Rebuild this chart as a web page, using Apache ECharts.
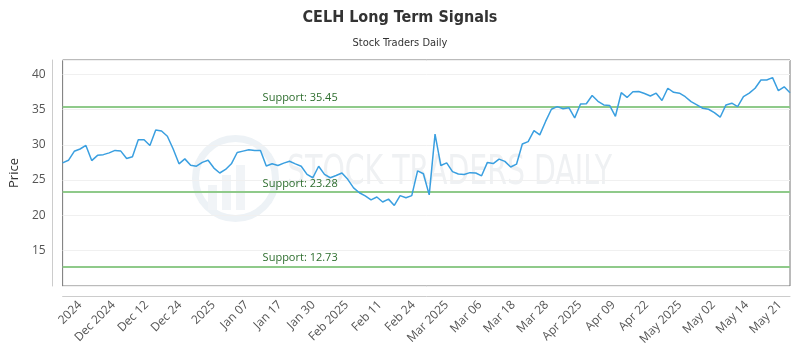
<!DOCTYPE html>
<html>
<head>
<meta charset="utf-8">
<script src="https://cdn.jsdelivr.net/npm/echarts@6/dist/echarts.min.js"></script>
<style>html,body{margin:0;padding:0;background:#fff}#c{width:800px;height:350px}</style>
</head>
<body>
<div id="c"></div>
<script>
const title = "CELH Long Term Signals";
const subtitle = "Stock Traders Daily";
const tickLabels = ["2024","Dec 2024","Dec 12","Dec 24","2025","Jan 07","Jan 17","Jan 30","Feb 2025","Feb 11","Feb 24","Mar 2025","Mar 06","Mar 18","Mar 28","Apr 2025","Apr 09","Apr 22","May 2025","May 02","May 14","May 21"];
const prices = [27.44,27.8,29.07,29.4,29.9,27.76,28.5,28.6,28.85,29.2,29.1,28.05,28.3,30.7,30.7,29.9,32.1,31.95,31.2,29.4,
27.3,28.0,27.1,26.96,27.5,27.8,26.7,26.0,26.5,27.3,28.9,29.1,29.3,29.2,29.2,27.0,27.3,27.06,27.4,27.66,
27.3,26.96,25.8,25.33,26.96,25.8,25.33,25.65,26.0,25.1,23.9,23.2,22.75,22.2,22.6,21.9,22.3,21.4,22.8,22.5,
22.8,26.3,25.9,22.9,31.5,27.06,27.44,26.2,25.85,25.8,26.05,26.0,25.6,27.5,27.34,27.97,27.65,26.85,27.25,30.1,
30.45,32.0,31.4,33.3,35.03,35.4,35.1,35.25,33.8,35.76,35.8,36.97,36.15,35.64,35.57,34.03,37.37,36.7,37.5,37.55,
37.25,36.9,37.3,36.27,38.0,37.43,37.3,36.8,36.1,35.64,35.17,35.03,34.56,33.9,35.64,35.88,35.4,36.8,37.3,38.0,
39.16,39.16,39.5,37.65,38.2,37.37];
const supportLevels = [35.45, 23.28, 12.73];
const categories = prices.map((_, i) => String(i));

const condensed = "'DejaVu Sans Condensed', 'Roboto Condensed', Roboto, sans-serif";
const chart = echarts.init(document.getElementById('c'), null, {renderer: 'canvas'});
chart.setOption({
  animation: false,
  backgroundColor: '#fff',
  title: [
    {text: title, left: 'center', top: 5, textStyle: {fontFamily: condensed, fontWeight: 'bold', fontSize: 16, color: '#333'}},
    {text: subtitle, left: 'center', top: 33, textStyle: {fontFamily: condensed, fontWeight: 'normal', fontSize: 11, color: '#333'}}
  ],
  graphic: [
    {type: 'circle', left: 192, top: 135, z: -10, shape: {r: 40}, style: {fill: 'none', stroke: '#edf2f6', lineWidth: 7}},
    {type: 'rect', left: 208, top: 185, z: -10, shape: {width: 9, height: 25}, style: {fill: '#f1f4f7'}},
    {type: 'rect', left: 222, top: 175, z: -10, shape: {width: 9, height: 35}, style: {fill: '#f1f4f7'}},
    {type: 'rect', left: 236, top: 165, z: -10, shape: {width: 9, height: 45}, style: {fill: '#f1f4f7'}},
    {type: 'text', x: 287, y: 153, scaleX: 0.77, z: -10, style: {text: 'STOCK TRADERS DAILY', fontFamily: condensed, fontSize: 41, fill: '#eff1f3'}}
  ],
  grid: [
    {left: 60, right: 10, top: 60, bottom: 64, show: true, borderColor: '#777', borderWidth: 1, backgroundColor: 'transparent'},
    {left: 80, right: 20, top: 60, bottom: 64, show: false}
  ],
  xAxis: [
    {type: 'category', gridIndex: 0, data: categories, boundaryGap: false, offset: 10,
     axisLine: {show: true, lineStyle: {color: '#ccc'}}, axisTick: {show: false}, axisLabel: {show: false}, splitLine: {show: false}},
    {type: 'category', gridIndex: 1, data: tickLabels, boundaryGap: false, offset: 10,
     axisLine: {show: false}, axisTick: {show: false},
     axisLabel: {interval: 0, rotate: 45, margin: 7, fontFamily: 'Open Sans', fontSize: 12, color: '#555'}}
  ],
  yAxis: [
    {type: 'value', gridIndex: 0, min: 10, max: 42, interval: 5, offset: 10,
     name: 'Price', nameLocation: 'middle', nameGap: 25, nameTextStyle: {fontFamily: 'Open Sans', fontSize: 13, color: '#333'},
     axisLine: {show: true, lineStyle: {color: '#ccc'}}, axisTick: {show: false},
     axisLabel: {showMinLabel: false, showMaxLabel: false, margin: 7, fontFamily: 'Open Sans', fontSize: 12, color: '#555'},
     splitLine: {show: true, lineStyle: {color: '#f0f0f0'}}},
    {type: 'value', gridIndex: 1, min: 10, max: 42, show: false}
  ],
  series: [{
    type: 'line', xAxisIndex: 0, yAxisIndex: 0, data: prices, showSymbol: false, symbol: 'none',
    lineStyle: {color: '#3a9fe0', width: 1.5}, z: 5,
    markLine: {
      silent: true, symbol: 'none',
      lineStyle: {color: '#8fca8a', width: 2, type: 'solid'},
      label: {show: true, position: 'insideStartTop', padding: [0, 0, 0, 197], distance: 3,
              fontFamily: 'Open Sans', fontSize: 11, color: '#2e6e2e',
              formatter: p => 'Support: ' + p.value.toFixed(2)},
      data: supportLevels.map(v => ({yAxis: v}))
    }
  }]
});
</script>
</body>
</html>
